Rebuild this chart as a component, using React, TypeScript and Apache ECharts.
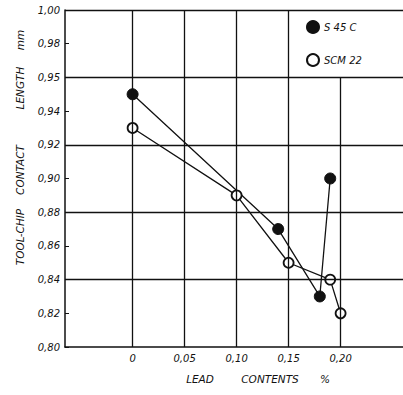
import React, { useEffect, useRef } from "react";
import * as echarts from "echarts";

const s45cData: [number, number][] = [
  [0, 0.95],
  [0.14, 0.87],
  [0.18, 0.83],
  [0.19, 0.9],
];
const scm22Data: [number, number][] = [
  [0, 0.93],
  [0.1, 0.89],
  [0.15, 0.85],
  [0.19, 0.84],
  [0.2, 0.82],
];
const xTicks = [0, 0.05, 0.1, 0.15, 0.2];
const xTickLabels = ["0", "0,05", "0,10", "0,15", "0,20"];
const yTickLabels: Record<string, string> = {
  "0.80": "0,80", "0.82": "0,82", "0.84": "0,84", "0.86": "0,86", "0.88": "0,88",
  "0.90": "0,90", "0.92": "0,92", "0.94": "0,94", "0.96": "0,95", "0.98": "0,98", "1.00": "1,00",
};
const hGrid = [0.84, 0.88, 0.92, 0.96, 1.0];
const vGridFull = [0, 0.05, 0.1, 0.15];
const vGridShort = 0.2;
const legendNames = ["S 45 C", "SCM 22"];
const yNameWords = ["TOOL-CHIP", "CONTACT", "LENGTH", "mm"];
const xNameWords = ["LEAD", "CONTENTS", "%"];

const FONT = "DejaVu Sans";

export default function App() {
  const ref = useRef<HTMLDivElement>(null);
  useEffect(() => {
    if (!ref.current) return;
    const chart = echarts.init(ref.current, null, { renderer: "svg" });
    const gridLineStyle = { color: "#111", width: 1.3, type: "solid" as const };
    const markData: any[] = [];
    hGrid.forEach((v) => markData.push({ yAxis: v }));
    vGridFull.forEach((v) => markData.push({ xAxis: v }));
    markData.push([
      { coord: [vGridShort, 0.8] },
      { coord: [vGridShort, 0.96] },
    ]);
    const yNameCenters = [237, 170, 88, 40];
    const xNameCenters = [200, 270, 325];
    const textFont = `italic 10.5px "${FONT}"`;
    chart.setOption({
      animation: false,
      backgroundColor: "#fff",
      grid: { left: 65, right: 0, top: 10, bottom: 48 },
      xAxis: {
        type: "value",
        min: -0.065,
        max: 0.26,
        splitLine: { show: false },
        axisTick: { show: false },
        axisLine: { onZero: false, lineStyle: { color: "#111", width: 1.5 } },
        axisLabel: {
          customValues: xTicks,
          formatter: (v: number) => {
            const i = xTicks.findIndex((t) => Math.abs(t - v) < 1e-6);
            return i >= 0 ? xTickLabels[i] : "";
          },
          color: "#111",
          fontFamily: FONT,
          fontStyle: "italic",
          fontSize: 10,
          margin: 6,
        },
      },
      yAxis: {
        type: "value",
        min: 0.8,
        max: 1.0,
        interval: 0.02,
        splitLine: { show: false },
        axisLine: { show: true, onZero: false, lineStyle: { color: "#111", width: 1.5 } },
        axisTick: { show: true, inside: true, length: 4, lineStyle: { color: "#111" } },
        axisLabel: {
          formatter: (v: number) => yTickLabels[v.toFixed(2)] ?? "",
          color: "#111",
          fontFamily: FONT,
          fontStyle: "italic",
          fontSize: 10,
          margin: 5,
        },
      },
      legend: {
        orient: "vertical",
        left: 301,
        top: 15,
        itemGap: 19,
        itemWidth: 12,
        itemHeight: 12,
        icon: "circle",
        data: legendNames,
        textStyle: { color: "#111", fontFamily: FONT, fontStyle: "italic", fontSize: 10 },
      },
      series: [
        {
          type: "line",
          name: "__grid",
          data: [],
          z: 1,
          silent: true,
          markLine: {
            silent: true,
            symbol: "none",
            label: { show: false },
            lineStyle: gridLineStyle,
            data: markData,
          },
        },
        {
          type: "line",
          name: legendNames[0],
          data: s45cData,
          z: 3,
          symbol: "circle",
          symbolSize: 11,
          lineStyle: { color: "#111", width: 1.3 },
          itemStyle: { color: "#111", borderColor: "#111", borderWidth: 1 },
        },
        {
          type: "line",
          name: legendNames[1],
          data: scm22Data,
          z: 4,
          symbol: "circle",
          symbolSize: 10,
          lineStyle: { color: "#111", width: 1.3 },
          itemStyle: { color: "#fff", borderColor: "#111", borderWidth: 1.8 },
        },
      ],
      graphic: [
        ...yNameWords.map((w, i) => ({
          type: "text",
          x: 20,
          y: yNameCenters[i],
          rotation: Math.PI / 2,
          style: {
            text: w,
            fill: "#111",
            font: textFont,
            align: "center",
            verticalAlign: "middle",
          },
        })),
        ...xNameWords.map((w, i) => ({
          type: "text",
          x: xNameCenters[i],
          y: 379,
          style: {
            text: w,
            fill: "#111",
            font: textFont,
            align: "center",
            verticalAlign: "middle",
          },
        })),
      ],
    });
    return () => chart.dispose();
  }, []);
  return <div ref={ref} style={{ width: 403, height: 395, position: "absolute", left: 0, top: 0 }} />;
}
